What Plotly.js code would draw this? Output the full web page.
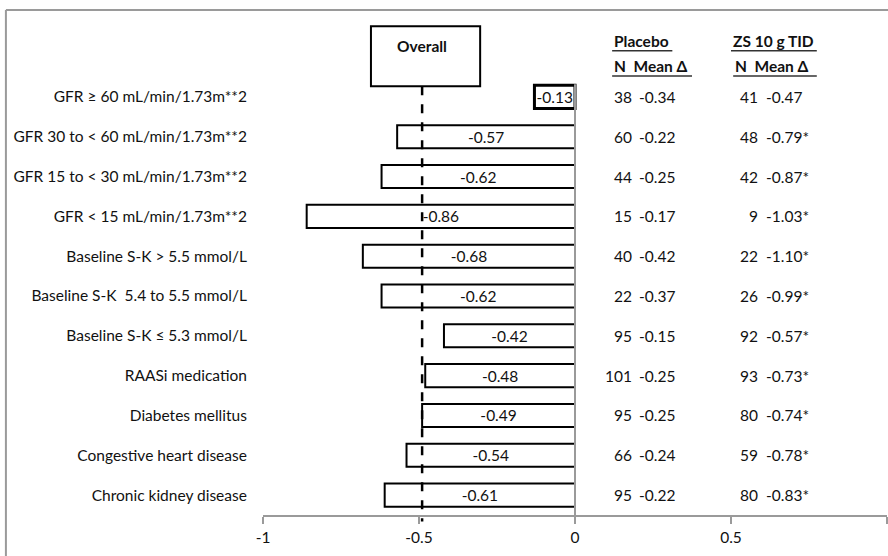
<!DOCTYPE html>
<html><head><meta charset="utf-8">
<script src="https://cdn.plot.ly/plotly-3.0.1.min.js"></script>
<style>body{margin:0;background:#fff}#c{width:888px;height:556px}</style>
</head><body><div id="c"></div>
<script>
const categories = ["GFR ≥ 60 mL/min/1.73m**2","GFR 30 to < 60 mL/min/1.73m**2","GFR 15 to < 30 mL/min/1.73m**2","GFR < 15 mL/min/1.73m**2","Baseline S-K > 5.5 mmol/L","Baseline S-K  5.4 to 5.5 mmol/L","Baseline S-K ≤ 5.3 mmol/L","RAASi medication","Diabetes mellitus","Congestive heart disease","Chronic kidney disease"];
const diffValues = [-0.13,-0.57,-0.62,-0.86,-0.68,-0.62,-0.42,-0.48,-0.49,-0.54,-0.61];
const overallValue = -0.49;
const placeboN = ["38","60","44","15","40","22","95","101","95","66","95"];
const placeboMean = ["-0.34","-0.22","-0.25","-0.17","-0.42","-0.37","-0.15","-0.25","-0.25","-0.24","-0.22"];
const zsN = ["41","48","42","9","22","26","92","93","80","59","80"];
const zsMean = ["-0.47","-0.79*","-0.87*","-1.03*","-1.10*","-0.99*","-0.57*","-0.73*","-0.74*","-0.78*","-0.83*"];
const xTicks = [-1,-0.5,0,0.5,1];
const xTickLabels = ["-1","-0.5","0","0.5","1"];

const FONT = "Lato, 'Open Sans', sans-serif";
const FS = 15.5;
const gray = "#9a9a9a";

const bar = {
  type:"bar", orientation:"h", x:diffValues, y:categories, width:0.58,
  marker:{color:"#ffffff", line:{color:"#000", width:diffValues.map((v,i)=>i===0?3:2)}},
  texttemplate:"%{x:.2f}", textposition:"inside", insidetextanchor:"middle",
  constraintext:"none", textfont:{size:FS,color:"#111",family:FONT},
  hoverinfo:"skip", showlegend:false
};

const tf = {size:FS,color:"#111",family:FONT};
const ann = [];
categories.forEach((c,i)=>{
  ann.push({x:0.188,y:c,xref:"x",yref:"y",text:placeboN[i],xanchor:"right",showarrow:false,font:tf});
  ann.push({x:0.198,y:c,xref:"x",yref:"y",text:placeboMean[i],xanchor:"left",showarrow:false,font:tf});
  ann.push({x:0.592,y:c,xref:"x",yref:"y",text:zsN[i],xanchor:"right",showarrow:false,font:tf});
  ann.push({x:0.605,y:c,xref:"x",yref:"y",text:zsMean[i],xanchor:"left",showarrow:false,font:tf});
});
ann.push({x:0.119,y:1.082,xref:"x",yref:"paper",text:"<b>Placebo</b>",xanchor:"left",yanchor:"middle",showarrow:false,font:tf});
ann.push({x:0.500,y:1.082,xref:"x",yref:"paper",text:"<b>ZS 10 g TID</b>",xanchor:"left",yanchor:"middle",showarrow:false,font:tf});
ann.push({x:0.119,y:1.025,xref:"x",yref:"paper",text:"<b>N  Mean Δ</b>",xanchor:"left",yanchor:"middle",showarrow:false,font:tf});
ann.push({x:0.507,y:1.025,xref:"x",yref:"paper",text:"<b>N  Mean Δ</b>",xanchor:"left",yanchor:"middle",showarrow:false,font:tf});
ann.push({x:overallValue,y:1.071,xref:"x",yref:"paper",text:"<b>Overall</b>",xanchor:"center",yanchor:"middle",showarrow:false,font:tf});

const shapes = [
  {type:"line",xref:"paper",yref:"paper",x0:-0.412,x1:1.01,y0:1.153,y1:1.153,line:{color:gray,width:2}},
  {type:"line",xref:"paper",yref:"paper",x0:-0.412,x1:-0.412,y0:1.153,y1:-0.2,line:{color:gray,width:2}},
  {type:"line",xref:"x",yref:"y",x0:0,x1:0,y0:-0.32,y1:10.5,line:{color:gray,width:2}},
  {type:"rect",xref:"x",yref:"paper",x0:-0.654,x1:-0.304,y0:0.979,y1:1.116,line:{color:"#000",width:2},fillcolor:"#fff"},
  {type:"line",xref:"x",yref:"paper",x0:overallValue,x1:overallValue,y0:0.979,y1:-0.015,line:{color:"#000",width:2.5,dash:"dash"}},
  {type:"line",xref:"x",yref:"paper",x0:0.119,x1:0.312,y0:1.060,y1:1.060,line:{color:"#333",width:1.5}},
  {type:"line",xref:"x",yref:"paper",x0:0.50,x1:0.775,y0:1.060,y1:1.060,line:{color:"#333",width:1.5}},
  {type:"line",xref:"x",yref:"paper",x0:0.119,x1:0.375,y0:1.002,y1:1.002,line:{color:"#333",width:1.5}},
  {type:"line",xref:"x",yref:"paper",x0:0.507,x1:0.775,y0:1.002,y1:1.002,line:{color:"#333",width:1.5}}
];

const layout = {
  width:888, height:556, margin:{l:263,r:1,t:77,b:41},
  paper_bgcolor:"#fff", plot_bgcolor:"#fff",
  font:{family:FONT,size:FS,color:"#111"},
  xaxis:{range:[-1,1], tickvals:xTicks, ticktext:xTickLabels, showgrid:false, zeroline:false,
    showline:true, linecolor:gray, linewidth:2, ticks:"outside", ticklen:7, tickwidth:2, tickcolor:gray,
    tickfont:tf, fixedrange:true},
  yaxis:{type:"category", range:[10.5,-0.5], showgrid:false, zeroline:false, showline:false,
    ticks:"outside", ticklen:12, tickcolor:"rgba(0,0,0,0)", tickfont:tf, fixedrange:true},
  shapes:shapes, annotations:ann, showlegend:false
};
Plotly.newPlot("c",[bar],layout,{displayModeBar:false,staticPlot:true});
</script></body></html>
